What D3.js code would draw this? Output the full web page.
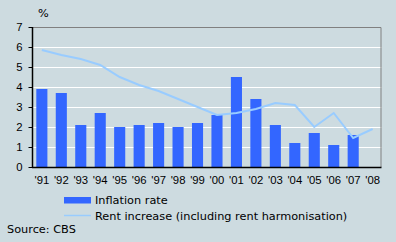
<!DOCTYPE html>
<html lang="en">
  <head>
    <meta charset="utf-8">
    <title>Inflation and rent increase</title>
    <script type="text/javascript" src="https://cdn.jsdelivr.net/npm/d3@7"></script>
    <style>
      body { margin: 0; background: #cddbe0; }
      svg { display: block; font-family: "DejaVu Sans", Verdana, sans-serif; }
      .axis text { font-size: 11.3px; fill: #000; }
    </style>
  </head>
  <body>
    <script type="text/javascript">
      // data
      var years = ["'91","'92","'93","'94","'95","'96","'97","'98","'99","'00",
                   "'01","'02","'03","'04","'05","'06","'07","'08"];
      var inflation = [3.9, 3.7, 2.1, 2.7, 2.0, 2.1, 2.2, 2.0, 2.2, 2.6,
                       4.5, 3.4, 2.1, 1.2, 1.7, 1.1, 1.6, null];
      var rent = [5.85, 5.6, 5.4, 5.1, 4.5, 4.1, 3.8, 3.4, 3.0, 2.6,
                  2.7, 2.9, 3.2, 3.1, 2.0, 2.7, 1.45, 1.9];
      var yTicks = [0, 1, 2, 3, 4, 5, 6, 7];

      var W = 396, H = 242;
      var margin = {top: 27, right: 14.5, bottom: 75, left: 33};
      var w = W - margin.left - margin.right,
          h = H - margin.top - margin.bottom;

      var svg = d3.select("body").append("svg")
            .attr("width", W)
            .attr("height", H);

      svg.append("rect").attr("width", W).attr("height", H).attr("fill", "#cddbe0");

      var x = d3.scaleBand().domain(years)
            .range([margin.left, margin.left + w])
            .paddingInner(0.43).paddingOuter(0.17);

      var y = d3.scaleLinear().domain([0, 7])
            .range([margin.top + h, margin.top]);

      // gridlines
      svg.append("g").selectAll("line")
        .data(yTicks.slice(1, -1))
        .enter().append("line")
        .attr("x1", margin.left).attr("x2", margin.left + w)
        .attr("y1", function(d) { return Math.round(y(d)) + 0.5; })
        .attr("y2", function(d) { return Math.round(y(d)) + 0.5; })
        .attr("stroke", "#fff").attr("stroke-width", 1);

      // frame top and right
      svg.append("path")
        .attr("d", "M" + margin.left + "," + (margin.top + 0.5) +
                   "H" + (margin.left + w - 0.5) + "V" + (margin.top + h))
        .attr("fill", "none").attr("stroke", "#808080");

      // bars
      svg.append("g").selectAll("rect")
        .data(inflation.map(function(v, i) { return {k: years[i], v: v}; })
              .filter(function(d) { return d.v != null; }))
        .enter().append("rect")
        .attr("x", function(d) { return x(d.k); })
        .attr("width", x.bandwidth())
        .attr("y", function(d) { return y(d.v); })
        .attr("height", function(d) { return y(0) - y(d.v); })
        .attr("fill", "#3366ff");

      // rent line
      var line = d3.line()
        .x(function(d, i) { return x(years[i]) + x.bandwidth() / 2; })
        .y(function(d) { return y(d); });

      svg.append("path")
        .datum(rent)
        .attr("d", line)
        .attr("fill", "none")
        .attr("stroke", "#99ccff")
        .attr("stroke-width", 2);

      // axes
      var yAxis = d3.axisLeft(y).tickValues(yTicks).tickFormat(d3.format("d"))
        .tickSize(4).tickPadding(6);
      var gy = svg.append("g").attr("class", "axis")
        .attr("transform", "translate(" + (margin.left - 0.5) + ",0)")
        .call(yAxis);
      gy.select(".domain").remove();
      gy.selectAll("line").attr("stroke", "#000");
      gy.selectAll("text").attr("font-size", 12);
      gy.append("line").attr("x1", 0).attr("x2", 0)
        .attr("y1", margin.top).attr("y2", margin.top + h + 1)
        .attr("stroke", "#000").attr("stroke-width", 1.5);

      var xAxis = d3.axisBottom(x).tickSize(0).tickPadding(9);
      var gx = svg.append("g").attr("class", "axis")
        .attr("transform", "translate(0," + (margin.top + h) + ")")
        .call(xAxis);
      gx.select(".domain").remove();
      gx.append("line").attr("x1", margin.left - 1).attr("x2", margin.left + w)
        .attr("y1", 0.5).attr("y2", 0.5)
        .attr("stroke", "#000").attr("stroke-width", 1.5);

      svg.append("text").attr("x", 38).attr("y", 17)
        .attr("font-size", 11.3).text("%");

      // legend
      var lg = svg.append("g").attr("font-size", 11.3);
      lg.append("rect").attr("x", 64).attr("y", 197).attr("width", 27).attr("height", 6.5)
        .attr("fill", "#3366ff");
      lg.append("text").attr("x", 95).attr("y", 204).text("Inflation rate");
      lg.append("line").attr("x1", 64).attr("x2", 91).attr("y1", 215.5).attr("y2", 215.5)
        .attr("stroke", "#99ccff").attr("stroke-width", 1.5);
      lg.append("text").attr("x", 95).attr("y", 220).text("Rent increase (including rent harmonisation)");

      svg.append("text").attr("x", 7).attr("y", 233)
        .attr("font-size", 11.3).text("Source: CBS");
    </script>
  </body>
</html>
